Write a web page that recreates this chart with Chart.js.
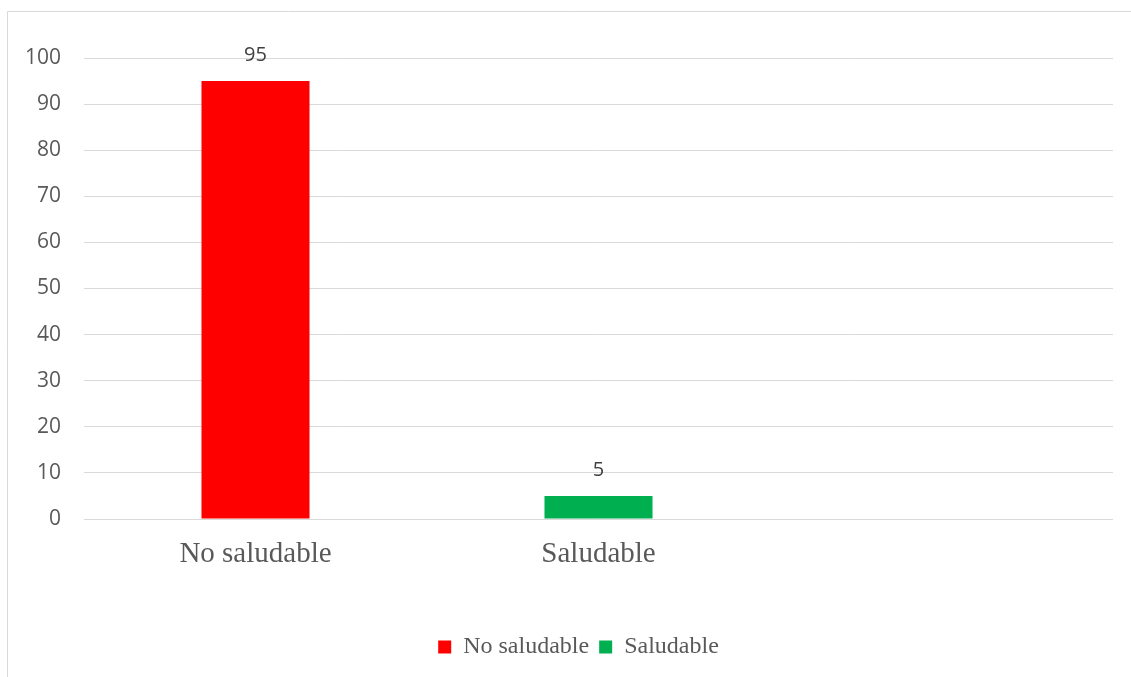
<!DOCTYPE html>
<html>
<head>
<meta charset="utf-8">
<script src="https://cdn.jsdelivr.net/npm/chart.js@4"></script>
<style>
  html, body { margin: 0; padding: 0; background: #fff; }
  #wrap { width: 1131px; height: 677px; position: relative; }
</style>
</head>
<body>
<div id="wrap"><canvas id="c" width="1131" height="677"></canvas></div>
<script>
const categories = ['No saludable', 'Saludable', ''];
const seriesNames = ['No saludable', 'Saludable'];
const noSaludable = [95, null, null];
const saludable = [null, 5, null];
const seriesColors = ['#ff0000', '#00b050'];

const framePlugin = {
  id: 'frame',
  beforeDraw(chart) {
    const ctx = chart.ctx;
    ctx.save();
    ctx.fillStyle = '#ffffff';
    ctx.fillRect(0, 0, chart.width, chart.height);
    ctx.strokeStyle = '#d9d9d9';
    ctx.lineWidth = 1;
    ctx.beginPath();
    ctx.moveTo(7.5, chart.height);
    ctx.lineTo(7.5, 11.5);
    ctx.lineTo(chart.width, 11.5);
    ctx.stroke();
    ctx.restore();
  }
};

const legendShiftPlugin = {
  id: 'legendShift',
  afterLayout(chart) {
    if (chart.legend) {
      chart.legend.left += 22;
      chart.legend.right += 22;
    }
  }
};

const labelPlugin = {
  id: 'valueLabels',
  afterDatasetsDraw(chart) {
    const ctx = chart.ctx;
    ctx.save();
    ctx.font = '20px "Open Sans", sans-serif';
    ctx.fillStyle = '#404040';
    ctx.textAlign = 'center';
    ctx.textBaseline = 'middle';
    chart.data.datasets.forEach((ds, i) => {
      const meta = chart.getDatasetMeta(i);
      meta.data.forEach((el, j) => {
        const v = ds.data[j];
        if (v === null || v === undefined) return;
        ctx.fillText(String(v), el.x, el.y - 26);
      });
    });
    ctx.restore();
  }
};

new Chart(document.getElementById('c'), {
  type: 'bar',
  data: {
    labels: categories,
    datasets: [
      { label: seriesNames[0], data: noSaludable, backgroundColor: seriesColors[0] },
      { label: seriesNames[1], data: saludable, backgroundColor: seriesColors[1] }
    ]
  },
  options: {
    responsive: false,
    animation: false,
    devicePixelRatio: 1,
    layout: { padding: { left: 0, right: 18, top: 58, bottom: 8 } },
    datasets: { bar: { grouped: false, categoryPercentage: 1, barPercentage: 0.315 } },
    scales: {
      x: {
        grid: { display: false },
        border: { display: false },
        ticks: { color: '#595959', font: { family: '"Liberation Serif", serif', size: 29 }, padding: 10 },
        afterFit(s) { s.height = 106; }
      },
      y: {
        min: 0, max: 100,
        ticks: { stepSize: 10, color: '#595959', font: { family: '"Open Sans", sans-serif', size: 21 }, padding: 23 },
        grid: { color: '#d9d9d9', lineWidth: 1, drawTicks: false },
        border: { display: false },
        afterFit(s) { s.width = 84; }
      }
    },
    plugins: {
      legend: {
        position: 'bottom',
        labels: {
          boxWidth: 13, boxHeight: 13, padding: 10,
          color: '#595959',
          font: { family: '"Liberation Serif", serif', size: 24 }
        }
      },
      tooltip: { enabled: false },
      title: { display: false }
    }
  },
  plugins: [framePlugin, legendShiftPlugin, labelPlugin]
});
</script>
</body>
</html>
